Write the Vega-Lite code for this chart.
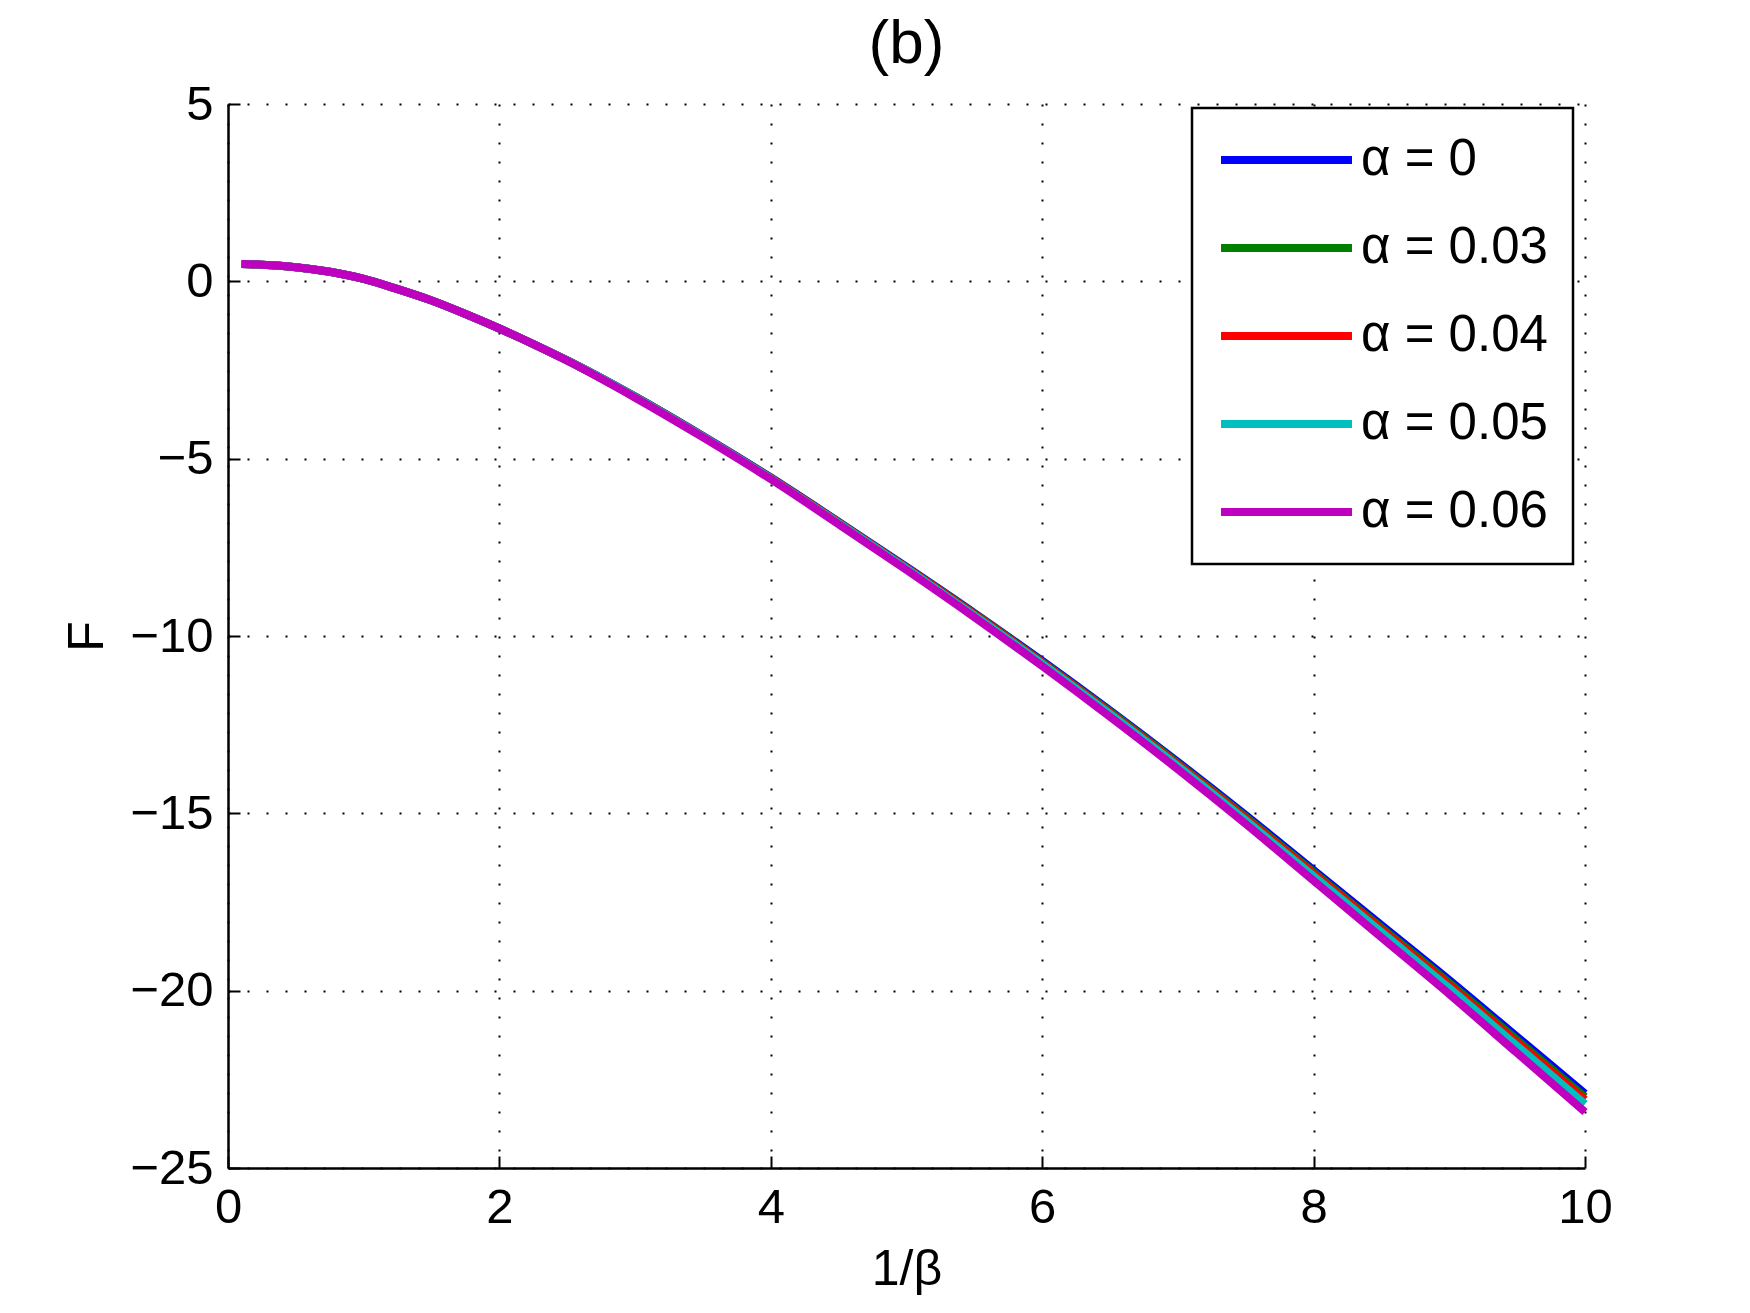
{
  "$schema": "https://vega.github.io/schema/vega-lite/v6.json",
  "width": 1357,
  "height": 1064,
  "autosize": {"type": "none"},
  "padding": {"left": 228, "top": 104, "right": 165, "bottom": 145},
  "background": "white",
  "title": {"text": "(b)", "fontSize": 62, "font": "Liberation Sans", "fontWeight": "normal", "color": "black", "offset": 4},
  "datasets": {
    "curves": [
      {"x": 0.1, "F": 0.49, "a": "α = 0"}, {"x": 0.25, "F": 0.47, "a": "α = 0"}, {"x": 0.5, "F": 0.40, "a": "α = 0"}, {"x": 0.75, "F": 0.27, "a": "α = 0"}, {"x": 1.0, "F": 0.07, "a": "α = 0"}, {"x": 1.25, "F": -0.22, "a": "α = 0"}, {"x": 1.5, "F": -0.54, "a": "α = 0"}, {"x": 1.75, "F": -0.92, "a": "α = 0"}, {"x": 2.0, "F": -1.33, "a": "α = 0"}, {"x": 2.25, "F": -1.77, "a": "α = 0"}, {"x": 2.5, "F": -2.23, "a": "α = 0"}, {"x": 3.0, "F": -3.25, "a": "α = 0"}, {"x": 3.5, "F": -4.36, "a": "α = 0"}, {"x": 4.0, "F": -5.53, "a": "α = 0"}, {"x": 4.5, "F": -6.78, "a": "α = 0"}, {"x": 5.0, "F": -8.05, "a": "α = 0"}, {"x": 5.5, "F": -9.35, "a": "α = 0"}, {"x": 6.0, "F": -10.70, "a": "α = 0"}, {"x": 6.5, "F": -12.10, "a": "α = 0"}, {"x": 7.0, "F": -13.55, "a": "α = 0"}, {"x": 7.5, "F": -15.05, "a": "α = 0"}, {"x": 8.0, "F": -16.60, "a": "α = 0"}, {"x": 8.5, "F": -18.15, "a": "α = 0"}, {"x": 9.0, "F": -19.70, "a": "α = 0"}, {"x": 9.5, "F": -21.30, "a": "α = 0"}, {"x": 10.0, "F": -22.90, "a": "α = 0"},

      {"x": 0.1, "F": 0.49, "a": "α = 0.03"}, {"x": 0.25, "F": 0.47, "a": "α = 0.03"}, {"x": 0.5, "F": 0.40, "a": "α = 0.03"}, {"x": 0.75, "F": 0.27, "a": "α = 0.03"}, {"x": 1.0, "F": 0.07, "a": "α = 0.03"}, {"x": 1.25, "F": -0.22, "a": "α = 0.03"}, {"x": 1.5, "F": -0.54, "a": "α = 0.03"}, {"x": 1.75, "F": -0.92, "a": "α = 0.03"}, {"x": 2.0, "F": -1.33, "a": "α = 0.03"}, {"x": 2.25, "F": -1.77, "a": "α = 0.03"}, {"x": 2.5, "F": -2.23, "a": "α = 0.03"}, {"x": 3.0, "F": -3.25, "a": "α = 0.03"}, {"x": 3.5, "F": -4.37, "a": "α = 0.03"}, {"x": 4.0, "F": -5.54, "a": "α = 0.03"}, {"x": 4.5, "F": -6.79, "a": "α = 0.03"}, {"x": 5.0, "F": -8.07, "a": "α = 0.03"}, {"x": 5.5, "F": -9.37, "a": "α = 0.03"}, {"x": 6.0, "F": -10.73, "a": "α = 0.03"}, {"x": 6.5, "F": -12.13, "a": "α = 0.03"}, {"x": 7.0, "F": -13.59, "a": "α = 0.03"}, {"x": 7.5, "F": -15.10, "a": "α = 0.03"}, {"x": 8.0, "F": -16.66, "a": "α = 0.03"}, {"x": 8.5, "F": -18.22, "a": "α = 0.03"}, {"x": 9.0, "F": -19.78, "a": "α = 0.03"}, {"x": 9.5, "F": -21.39, "a": "α = 0.03"}, {"x": 10.0, "F": -23.00, "a": "α = 0.03"},

      {"x": 0.1, "F": 0.49, "a": "α = 0.04"}, {"x": 0.25, "F": 0.47, "a": "α = 0.04"}, {"x": 0.5, "F": 0.40, "a": "α = 0.04"}, {"x": 0.75, "F": 0.27, "a": "α = 0.04"}, {"x": 1.0, "F": 0.07, "a": "α = 0.04"}, {"x": 1.25, "F": -0.22, "a": "α = 0.04"}, {"x": 1.5, "F": -0.54, "a": "α = 0.04"}, {"x": 1.75, "F": -0.92, "a": "α = 0.04"}, {"x": 2.0, "F": -1.33, "a": "α = 0.04"}, {"x": 2.25, "F": -1.77, "a": "α = 0.04"}, {"x": 2.5, "F": -2.23, "a": "α = 0.04"}, {"x": 3.0, "F": -3.26, "a": "α = 0.04"}, {"x": 3.5, "F": -4.37, "a": "α = 0.04"}, {"x": 4.0, "F": -5.55, "a": "α = 0.04"}, {"x": 4.5, "F": -6.80, "a": "α = 0.04"}, {"x": 5.0, "F": -8.08, "a": "α = 0.04"}, {"x": 5.5, "F": -9.39, "a": "α = 0.04"}, {"x": 6.0, "F": -10.75, "a": "α = 0.04"}, {"x": 6.5, "F": -12.16, "a": "α = 0.04"}, {"x": 7.0, "F": -13.62, "a": "α = 0.04"}, {"x": 7.5, "F": -15.14, "a": "α = 0.04"}, {"x": 8.0, "F": -16.70, "a": "α = 0.04"}, {"x": 8.5, "F": -18.27, "a": "α = 0.04"}, {"x": 9.0, "F": -19.84, "a": "α = 0.04"}, {"x": 9.5, "F": -21.46, "a": "α = 0.04"}, {"x": 10.0, "F": -23.08, "a": "α = 0.04"},

      {"x": 0.1, "F": 0.49, "a": "α = 0.05"}, {"x": 0.25, "F": 0.47, "a": "α = 0.05"}, {"x": 0.5, "F": 0.40, "a": "α = 0.05"}, {"x": 0.75, "F": 0.27, "a": "α = 0.05"}, {"x": 1.0, "F": 0.07, "a": "α = 0.05"}, {"x": 1.25, "F": -0.22, "a": "α = 0.05"}, {"x": 1.5, "F": -0.54, "a": "α = 0.05"}, {"x": 1.75, "F": -0.92, "a": "α = 0.05"}, {"x": 2.0, "F": -1.33, "a": "α = 0.05"}, {"x": 2.25, "F": -1.77, "a": "α = 0.05"}, {"x": 2.5, "F": -2.23, "a": "α = 0.05"}, {"x": 3.0, "F": -3.26, "a": "α = 0.05"}, {"x": 3.5, "F": -4.38, "a": "α = 0.05"}, {"x": 4.0, "F": -5.56, "a": "α = 0.05"}, {"x": 4.5, "F": -6.82, "a": "α = 0.05"}, {"x": 5.0, "F": -8.10, "a": "α = 0.05"}, {"x": 5.5, "F": -9.42, "a": "α = 0.05"}, {"x": 6.0, "F": -10.78, "a": "α = 0.05"}, {"x": 6.5, "F": -12.20, "a": "α = 0.05"}, {"x": 7.0, "F": -13.67, "a": "α = 0.05"}, {"x": 7.5, "F": -15.20, "a": "α = 0.05"}, {"x": 8.0, "F": -16.77, "a": "α = 0.05"}, {"x": 8.5, "F": -18.35, "a": "α = 0.05"}, {"x": 9.0, "F": -19.93, "a": "α = 0.05"}, {"x": 9.5, "F": -21.56, "a": "α = 0.05"}, {"x": 10.0, "F": -23.20, "a": "α = 0.05"},

      {"x": 0.1, "F": 0.49, "a": "α = 0.06"}, {"x": 0.25, "F": 0.47, "a": "α = 0.06"}, {"x": 0.5, "F": 0.40, "a": "α = 0.06"}, {"x": 0.75, "F": 0.27, "a": "α = 0.06"}, {"x": 1.0, "F": 0.07, "a": "α = 0.06"}, {"x": 1.25, "F": -0.22, "a": "α = 0.06"}, {"x": 1.5, "F": -0.54, "a": "α = 0.06"}, {"x": 1.75, "F": -0.92, "a": "α = 0.06"}, {"x": 2.0, "F": -1.33, "a": "α = 0.06"}, {"x": 2.25, "F": -1.77, "a": "α = 0.06"}, {"x": 2.5, "F": -2.24, "a": "α = 0.06"}, {"x": 3.0, "F": -3.28, "a": "α = 0.06"}, {"x": 3.5, "F": -4.40, "a": "α = 0.06"}, {"x": 4.0, "F": -5.58, "a": "α = 0.06"}, {"x": 4.5, "F": -6.85, "a": "α = 0.06"}, {"x": 5.0, "F": -8.14, "a": "α = 0.06"}, {"x": 5.5, "F": -9.47, "a": "α = 0.06"}, {"x": 6.0, "F": -10.85, "a": "α = 0.06"}, {"x": 6.5, "F": -12.28, "a": "α = 0.06"}, {"x": 7.0, "F": -13.76, "a": "α = 0.06"}, {"x": 7.5, "F": -15.30, "a": "α = 0.06"}, {"x": 8.0, "F": -16.90, "a": "α = 0.06"}, {"x": 8.5, "F": -18.50, "a": "α = 0.06"}, {"x": 9.0, "F": -20.10, "a": "α = 0.06"}, {"x": 9.5, "F": -21.76, "a": "α = 0.06"}, {"x": 10.0, "F": -23.42, "a": "α = 0.06"}
    ]
  },
  "data": {"name": "curves"},
  "mark": {"type": "line", "strokeWidth": 8, "interpolate": "monotone", "strokeCap": "butt"},
  "encoding": {
    "x": {
      "field": "x", "type": "quantitative",
      "scale": {"domain": [0, 10], "nice": false, "zero": false},
      "axis": {"values": [0, 2, 4, 6, 8, 10], "title": "1/β", "format": "d"}
    },
    "y": {
      "field": "F", "type": "quantitative",
      "scale": {"domain": [-25, 5], "nice": false, "zero": false},
      "axis": {"values": [-25, -20, -15, -10, -5, 0, 5], "title": "F", "format": "d"}
    },
    "color": {
      "field": "a", "type": "nominal",
      "scale": {
        "domain": ["α = 0", "α = 0.03", "α = 0.04", "α = 0.05", "α = 0.06"],
        "range": ["#0000ff", "#008000", "#ff0000", "#00bfbf", "#bf00bf"]
      },
      "legend": {
        "title": null,
        "orient": "none",
        "legendX": 964,
        "legendY": 4
      }
    },
    "order": {"field": "x", "type": "quantitative"}
  },
  "config": {
    "view": {"stroke": null},
    "font": "Liberation Sans",
    "axis": {
      "domainColor": "black",
      "domainWidth": 2.5,
      "tickColor": "black",
      "tickWidth": 2,
      "tickSize": -12,
      "labelFont": "Liberation Sans",
      "labelFontSize": 49,
      "labelColor": "black",
      "titleFont": "Liberation Sans",
      "titleFontSize": 50,
      "titleFontWeight": "normal",
      "titleColor": "black",
      "grid": true,
      "gridColor": "black",
      "gridDash": [2, 17],
      "gridWidth": 2,
      "gridOpacity": 1
    },
    "axisX": {"labelPadding": 27, "titlePadding": 12, "labelFlush": false},
    "axisY": {"labelPadding": 27, "titlePadding": 17, "labelFlush": false},
    "legend": {
      "symbolType": "stroke",
      "symbolSize": 17161,
      "symbolStrokeWidth": 8,
      "clipHeight": 54,
      "rowPadding": 34,
      "padding": 25,
      "labelOffset": 5,
      "labelLimit": 0,
      "labelFont": "Liberation Sans",
      "labelFontSize": 51,
      "labelColor": "black",
      "strokeColor": "black",
      "strokeWidth": 2.5,
      "fillColor": "white",
      "symbolOpacity": 1
    }
  }
}
